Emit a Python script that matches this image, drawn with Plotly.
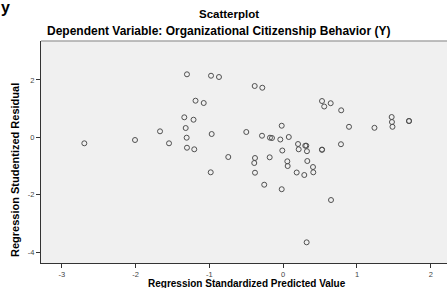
import plotly.graph_objects as go

# Regression standardized predicted value (x) and studentized residual (y)
pred = [-2.695, -2.008, -1.669, -1.547, -1.304, -0.978, -0.870, -0.386, -0.283,
        -1.188, -1.077, -1.340, -1.215, -1.321, -1.308, -1.304, -1.205, -0.969,
        -0.744, -0.982, -0.500, -0.287, -0.179, -0.152, -0.039, 0.076, -0.020,
        -0.382, -0.392, -0.183, -0.012, 0.201, 0.210, 0.299, 0.313, 0.322,
        0.327, 0.056, 0.061, 0.404, 0.408, 0.183, 0.286, -0.382, -0.257,
        -0.020, 0.648, 0.318, 0.526, 0.556, 0.644, 0.786, 0.892, 1.237,
        1.470, 1.474, 1.481, 1.705, 1.705, 0.526, 0.526, 0.783]
resid = [-0.205, -0.090, 0.212, -0.205, 2.197, 2.148, 2.103, 1.790, 1.730,
         1.278, 1.198, 0.700, 0.616, 0.327, -0.010, -0.359, -0.414, 0.118,
         -0.682, -1.215, 0.188, 0.059, -0.010, -0.021, -0.073, 0.014, 0.407,
         -0.717, -0.891, -0.693, -0.456, -0.230, -0.414, -0.289, -0.289, -0.480,
         -0.822, -0.832, -0.996, -1.031, -1.215, -1.222, -1.309, -1.229, -1.647,
         -1.804, -2.180, -3.653, 1.267, 1.076, 1.191, 0.944, 0.369, 0.334,
         0.710, 0.536, 0.369, 0.571, 0.571, -0.428, -0.428, -0.237]

x_ticks = [-3, -2, -1, 0, 1, 2]
x_tick_labels = ["-3", "-2", "-1", "0", "1", "2"]
y_ticks = [-4, -2, 0, 2]
y_tick_labels = ["-4", "-2", "0", "2"]

title = "Scatterplot"
subtitle = "Dependent Variable: Organizational Citizenship Behavior (Y)"
x_title = "Regression Standardized Predicted Value"
y_title = "Regression Studentized Residual"

FONT = "Liberation Sans, Arial, sans-serif"

fig = go.Figure()
fig.add_trace(go.Scatter(
    x=pred, y=resid, mode="markers",
    marker=dict(symbol="circle-open", size=5, color="#505050",
                line=dict(width=1, color="#505050")),
    hoverinfo="x+y", showlegend=False,
))

fig.update_layout(
    width=447, height=288,
    margin=dict(l=41, r=0, t=41, b=25),
    paper_bgcolor="white",
    plot_bgcolor="#f0f0f0",
    font=dict(family=FONT, color="black"),
    xaxis=dict(
        range=[-3.282, 2.220], tickvals=x_ticks, ticktext=x_tick_labels,
        showgrid=False, zeroline=False, showline=True, linecolor="#333333",
        linewidth=1, ticks="outside", ticklen=4, tickcolor="#333333",
        tickfont=dict(size=7.5, color="#444444", family=FONT),
    ),
    yaxis=dict(
        range=[-4.373, 3.357], tickvals=y_ticks, ticktext=y_tick_labels,
        showgrid=False, zeroline=False, showline=True, linecolor="#333333",
        linewidth=1, ticks="outside", ticklen=4, tickcolor="#333333",
        tickfont=dict(size=7.5, color="#444444", family=FONT),
    ),
    shapes=[dict(type="line", xref="paper", yref="paper", x0=0, x1=1, y0=1, y1=1,
                 line=dict(color="#a8a8a8", width=1.5))],
    annotations=[
        dict(text="<b>%s</b>" % title, xref="paper", yref="paper",
             x=(229 - 41) / 406, y=(288 - 25 - 14) / 222, xanchor="center", yanchor="middle",
             showarrow=False, font=dict(size=11.5, family=FONT, color="black")),
        dict(text="<b>%s</b>" % subtitle, xref="paper", yref="paper",
             x=(218 - 41) / 406, y=(288 - 25 - 31) / 222, xanchor="center", yanchor="middle",
             showarrow=False, font=dict(size=12, family=FONT, color="black")),
        dict(text="<b>%s</b>" % x_title, xref="paper", yref="paper",
             x=(247 - 41) / 406, y=(263 - 283.5) / 222, xanchor="center", yanchor="middle",
             showarrow=False, font=dict(size=10, family=FONT, color="black")),
        dict(text="<b>%s</b>" % y_title, xref="paper", yref="paper",
             x=(15 - 41) / 406, y=(263 - 170) / 222, xanchor="center", yanchor="middle",
             textangle=-90, showarrow=False, font=dict(size=11, family=FONT, color="black")),
        dict(text="<b>y</b>", xref="paper", yref="paper",
             x=(5 - 41) / 406, y=(263 - 7) / 222, xanchor="center", yanchor="middle",
             showarrow=False, font=dict(size=16, family=FONT, color="black")),
    ],
)

fig.write_html("out.html",
               config={"displayModeBar": False},
               post_script="document.body.style.margin='0';document.body.style.padding='0';")
